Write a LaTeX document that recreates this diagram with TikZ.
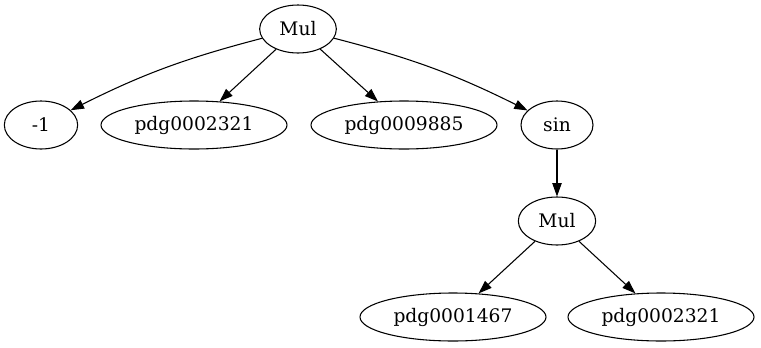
\documentclass[tikz,border=0pt]{standalone}
\usepackage{fontspec}
\setmainfont{DejaVu Serif}
\usetikzlibrary{shapes.geometric,arrows.meta}
\tikzset{
  vert/.style={ellipse,draw,line width=0.8pt,inner sep=0pt,minimum height=36pt,font=\fontsize{14}{16}\selectfont},
  edge/.style={-{Triangle[length=10pt,width=7pt]},line width=0.8pt}
}

\begin{document}
\begin{tikzpicture}[x=0.75pt,y=-0.75pt]
\useasboundingbox (0,0) rectangle (761,347);

\node[vert,minimum width=57.5pt] (root) at (298,29) {Mul};
\node[vert,minimum width=55pt] (mone) at (41,125) {-1};
\node[vert,minimum width=139.5pt] (pdgA) at (194,125) {pdg0002321};
\node[vert,minimum width=139.5pt] (pdgB) at (404,125) {pdg0009885};
\node[vert,minimum width=54pt] (sin) at (557,125) {sin};
\node[vert,minimum width=58pt] (mul) at (557,221) {Mul};
\node[vert,minimum width=139.5pt] (pdgC) at (453,317) {pdg0001467};
\node[vert,minimum width=139.5pt] (pdgD) at (661,317) {pdg0002321};

\draw[edge] (root) to[bend right=6] (mone);
\draw[edge] (root) -- (pdgA);
\draw[edge] (root) -- (pdgB);
\draw[edge] (root) to[bend left=6] (sin);
\draw[edge] (sin) -- (mul);
\draw[edge] (mul) -- (pdgC);
\draw[edge] (mul) -- (pdgD);
\end{tikzpicture}
\end{document}
